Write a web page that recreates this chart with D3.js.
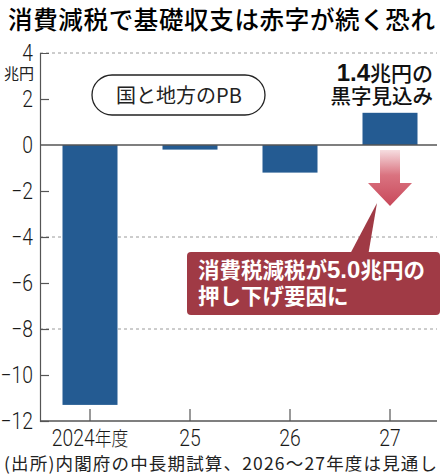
<!DOCTYPE html>
<html>
<head>
<meta charset="utf-8">
<script src="https://cdn.jsdelivr.net/npm/d3@7"></script>
<style>
  body { margin: 0; background: #fff; }
  text { font-family: "Noto Sans CJK JP", sans-serif; }
  .num { font-family: Roboto, "Noto Sans", sans-serif; font-weight: 300; }
</style>
</head>
<body>
<div id="container"></div>
<script>
/* DATA */
const years = ["2024年度", "25", "26", "27"];
const pb = [-11.3, -0.2, -1.2, 1.4];
const yTicks = [4, 2, 0, -2, -4, -6, -8, -10, -12];
const gridTicks = [4, -4, -8];

const width = 444, height = 476,
  margin = {top: 53, bottom: 55, left: 40, right: 4};
const squeeze = 0.84; // condensed digits

const svg = d3.select("#container").append("svg")
  .attr("width", width).attr("height", height);

/* SCALES */
const xScale = d3.scaleBand()
  .domain(years)
  .range([margin.left, margin.left + 400])
  .paddingInner(0.45).paddingOuter(0.225);

const yScale = d3.scaleLinear()
  .domain([-12, 4])
  .range([height - margin.bottom, margin.top]);

// title
svg.append("text")
  .attr("x", 8).attr("y", 29)
  .attr("textLength", 427)
  .style("font-size", "24.5px").style("font-weight", 500)
  .text("消費減税で基礎収支は赤字が続く恐れ");

// dashed grid
svg.selectAll(".grid").data(gridTicks).join("line")
  .attr("x1", margin.left).attr("x2", 437)
  .attr("y1", d => yScale(d)).attr("y2", d => yScale(d))
  .attr("stroke", "#9a9a9a").attr("stroke-dasharray", "3,3");

// bars
svg.selectAll(".bar").data(pb).join("rect")
  .attr("x", (d, i) => xScale(years[i]))
  .attr("width", xScale.bandwidth())
  .attr("y", d => yScale(Math.max(0, d)))
  .attr("height", d => Math.abs(yScale(d) - yScale(0)))
  .attr("fill", "#245b92");

// y axis
const yAxis = d3.axisLeft(yScale).tickValues(yTicks).tickSize(-9).tickPadding(8);
const gy = svg.append("g")
  .attr("transform", `translate(${margin.left},0)`)
  .call(yAxis);
gy.select(".domain").attr("stroke", "#555").attr("stroke-width", 1.2);
gy.selectAll(".tick line").attr("stroke", "#555").attr("stroke-width", 1.2)
  .filter(d => d === 4 || d === 0).remove();
gy.selectAll(".tick text").attr("class", "num")
  .attr("x", -7 / squeeze)
  .attr("transform", `scale(${squeeze},1)`)
  .style("font-size", "23px").attr("fill", "#1a1a1a");

// zero line
svg.append("line")
  .attr("x1", margin.left).attr("x2", 437)
  .attr("y1", yScale(0)).attr("y2", yScale(0))
  .attr("stroke", "#555").attr("stroke-width", 1.4);

// x axis
const xAxis = d3.axisBottom(xScale).tickSize(-12).tickPadding(10);
const gx = svg.append("g")
  .attr("transform", `translate(0,${yScale(-12)})`)
  .call(xAxis);
gx.select(".domain").attr("d", `M${margin.left},0H437`).attr("stroke", "#555").attr("stroke-width", 1.4);
gx.selectAll(".tick line").attr("stroke", "#555").attr("stroke-width", 1.2);
gx.selectAll(".tick text").attr("class", "num")
  .attr("y", 9)
  .attr("transform", `scale(${squeeze},1)`)
  .style("font-size", "23px").attr("fill", "#1a1a1a");
gx.selectAll(".tick text").filter(d => d === years[0])
  .text(null)
  .call(t => {
    t.append("tspan").text("2024");
    t.append("tspan").style("font-family", "Noto Sans CJK JP").style("font-weight", 300)
      .style("font-size", "20px").text("年度");
  });

// unit
svg.append("text")
  .attr("x", 4).attr("y", 79)
  .style("font-size", "15px").attr("fill", "#222")
  .text("兆円");

// legend pill
svg.append("rect")
  .attr("x", 92).attr("y", 75).attr("width", 173).attr("height", 40)
  .attr("rx", 20).attr("ry", 20)
  .attr("fill", "#fff").attr("stroke", "#222").attr("stroke-width", 1.3);
svg.append("text")
  .attr("x", 179).attr("y", 102.5)
  .attr("text-anchor", "middle")
  .style("font-size", "20px").attr("fill", "#222")
  .text("国と地方のPB");

// surplus annotation
const note = svg.append("text")
  .attr("x", 433).attr("y", 81)
  .attr("text-anchor", "end")
  .style("font-size", "21px").attr("fill", "#111");
note.append("tspan").style("font-weight", 700).style("font-size", "24px")
  .style("font-family", "Liberation Sans, sans-serif").text("1.4");
note.append("tspan").style("font-weight", 500).text("兆円の");
svg.append("text")
  .attr("x", 433).attr("y", 104)
  .attr("text-anchor", "end")
  .style("font-size", "20.5px").style("font-weight", 500).attr("fill", "#111")
  .text("黒字見込み");

// red arrow
const defs = svg.append("defs");
const grad = defs.append("linearGradient")
  .attr("id", "arrowGrad").attr("x1", 0).attr("y1", 0).attr("x2", 0).attr("y2", 1);
grad.append("stop").attr("offset", "0%").attr("stop-color", "#f6dde0");
grad.append("stop").attr("offset", "45%").attr("stop-color", "#da7380");
grad.append("stop").attr("offset", "100%").attr("stop-color", "#c8485a");

const ax = xScale(years[3]) + xScale.bandwidth() / 2;
svg.append("path")
  .attr("d", `M${ax - 10},150 H${ax + 10} V183 H${ax + 22} L${ax},206 L${ax - 22},183 H${ax - 10} Z`)
  .attr("fill", "url(#arrowGrad)");

// callout
const callout = svg.append("g");
callout.append("path")
  .attr("d", "M349,256 L377,203 L368,256 Z")
  .attr("fill", "#a03a45");
callout.append("rect")
  .attr("x", 187).attr("y", 252).attr("width", 253).attr("height", 63)
  .attr("rx", 4)
  .attr("fill", "#a03a45");
const c1 = callout.append("text")
  .attr("x", 198).attr("y", 278)
  .style("font-size", "21.5px").style("font-weight", 700).attr("fill", "#fff");
c1.append("tspan").text("消費税減税が");
c1.append("tspan").style("font-family", "Liberation Sans, sans-serif").style("font-size", "24px").text("5.0");
c1.append("tspan").text("兆円の");
callout.append("text")
  .attr("x", 198).attr("y", 304)
  .style("font-size", "21.5px").style("font-weight", 700).attr("fill", "#fff")
  .text("押し下げ要因に");

// source
svg.append("text")
  .attr("x", 4).attr("y", 470)
  .attr("textLength", 433)
  .style("font-size", "17.5px").attr("fill", "#222")
  .text("(出所)内閣府の中長期試算、2026〜27年度は見通し");
</script>
</body>
</html>
